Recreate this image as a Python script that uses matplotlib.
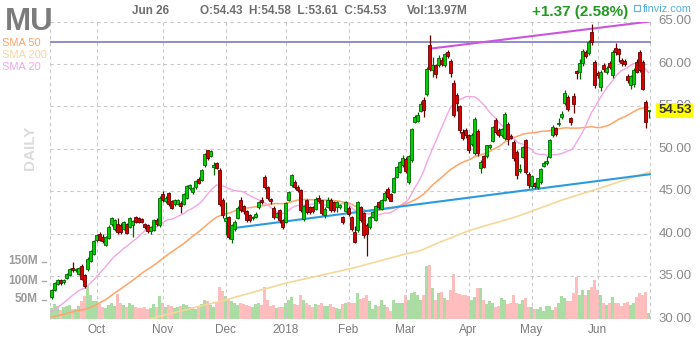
import numpy as np
import pandas as pd
import matplotlib
matplotlib.use("Agg")
import matplotlib.pyplot as plt
from matplotlib.transforms import blended_transform_factory
from matplotlib.patches import Rectangle

plt.rcParams['font.family'] = ['Liberation Sans', 'DejaVu Sans']

# ---------------- data ----------------
ticker = "MU"
start_date = "2017-09-11"
end_date = "2018-06-26"
holidays = ["2017-11-23", "2017-12-25", "2018-01-01", "2018-01-15",
            "2018-02-19", "2018-03-30", "2018-05-28"]

opens = [
    32.51, 33.38, 34.08, 34.48, 34.28, 34.79, 35.18, 35.93, 35.75, 35.26, 36.21, 35.10, 35.85, 36.76, 37.62,
    39.27, 39.98, 39.66, 38.72, 39.51, 41.16, 40.57, 41.08, 40.96, 40.57, 41.16, 40.84, 40.96, 41.94, 41.83,
    41.71, 41.16, 40.96, 40.37, 40.45, 41.60, 40.96,
    44.69, 43.83, 44.77, 43.83, 43.44, 43.52, 43.59, 43.52, 44.22, 45.40, 44.89, 45.48, 46.46, 46.35, 48.04,
    49.80, 49.10, 47.84, 48.35, 47.52, 43.99,
    41.47, 41.94, 39.39, 40.57, 41.87, 43.91, 43.20, 42.65, 42.14, 41.90, 41.94, 43.12, 43.99, 46.66, 45.48,
    44.10, 43.04, 41.94, 42.73, 41.63,
    41.35, 43.99, 45.68, 46.07, 45.48, 45.17, 41.75, 43.99, 43.12, 43.12, 42.93, 44.22, 43.91, 42.14, 43.12,
    43.99, 43.71, 43.12, 43.12, 41.94, 42.70,
    42.97, 41.91, 40.20, 40.40, 43.10, 42.40, 41.00, 40.80, 42.00, 41.60, 43.70, 42.90, 44.00, 45.30, 44.70,
    44.90, 46.70, 47.30, 48.10,
    48.80, 46.10, 48.70, 53.20, 53.30, 54.50, 55.80, 56.40, 62.20, 59.30, 59.90, 59.90, 60.50, 59.90, 61.40,
    60.30, 57.80, 56.30, 55.00, 52.00, 52.20,
    51.60, 50.60, 49.50, 52.10, 47.70, 49.10, 49.10, 50.20, 50.95, 53.39, 52.21, 51.62, 51.23, 52.92, 51.50,
    50.83, 49.65, 47.41, 49.06, 51.00, 47.02,
    45.61, 45.92, 45.53, 46.12, 48.00, 48.28, 49.06, 51.62, 52.40, 52.88, 53.70, 55.43, 56.14, 53.58, 56.22,
    59.16, 59.01, 60.07, 61.44, 61.25, 63.80, 60.26,
    58.89, 57.32, 59.87, 59.08, 60.07, 58.69, 61.84, 61.72, 60.46, 60.40, 58.57, 57.51, 57.63, 60.26, 61.44,
    60.26, 55.55, 54.43,
]
closes = [
    33.30, 34.16, 34.48, 34.16, 34.48, 35.26, 35.85, 35.73, 35.85, 35.97, 34.63, 33.81, 37.03, 37.90, 39.19,
    39.86, 39.27, 39.19, 39.59, 40.84, 41.86, 41.55, 40.17, 40.17, 41.35, 40.06, 41.86, 41.47, 41.35, 41.35,
    41.43, 40.76, 40.29, 40.76, 41.55, 41.10, 44.22,
    43.91, 44.22, 43.52, 43.04, 43.99, 43.91, 43.24, 44.69, 45.56, 45.68, 45.36, 46.19, 45.99, 47.52, 49.33,
    48.94, 49.72, 48.04, 47.76, 43.52, 42.14,
    41.87, 39.59, 40.96, 41.43, 43.00, 42.73, 42.65, 41.63, 41.63, 41.94, 42.34, 43.71, 43.71, 45.48, 44.22,
    43.83, 41.94, 42.41, 41.55, 40.76,
    43.59, 44.89, 46.86, 45.48, 45.09, 42.73, 43.20, 42.53, 42.53, 42.65, 44.10, 43.83, 42.41, 42.93, 43.91,
    42.73, 42.73, 43.71, 43.32, 41.35, 43.76,
    42.30, 40.50, 39.00, 43.70, 41.60, 39.80, 40.00, 42.00, 42.50, 43.30, 43.10, 44.00, 44.80, 44.30, 43.90,
    46.60, 47.90, 48.50, 48.90,
    47.40, 49.10, 52.30, 53.70, 54.00, 55.30, 54.60, 59.40, 59.40, 59.90, 58.80, 60.70, 60.00, 61.20, 60.90,
    58.90, 54.00, 55.40, 52.20, 51.30, 51.60,
    49.80, 51.60, 53.50, 49.50, 48.50, 47.90, 50.40, 50.40, 52.52, 52.01, 51.62, 52.29, 54.06, 51.11, 51.30,
    48.87, 46.90, 47.57, 50.17, 47.29, 45.72,
    46.78, 45.60, 46.51, 47.57, 48.36, 48.59, 51.03, 52.60, 51.74, 52.99, 54.06, 56.53, 54.64, 53.19, 55.27,
    58.89, 60.07, 61.56, 60.93, 62.62, 62.62, 57.51,
    58.69, 59.08, 59.36, 59.56, 59.60, 61.44, 61.44, 61.17, 60.15, 60.05, 58.10, 58.57, 59.28, 59.08, 59.28,
    57.00, 53.16, 54.53,
]
highs = [
    33.5, 34.3, 34.7, 34.6, 34.7, 35.4, 36.0, 36.6, 36.0, 36.1, 36.4, 35.2, 37.2, 38.1, 39.3,
    40.0, 40.2, 39.9, 39.7, 41.0, 42.0, 41.7, 41.9, 41.2, 41.5, 41.3, 42.0, 41.6, 42.1, 42.0,
    41.9, 41.3, 41.1, 40.9, 41.7, 41.8, 44.4,
    45.0, 44.4, 44.9, 44.0, 44.1, 44.1, 43.8, 44.8, 45.7, 45.9, 45.5, 46.3, 46.7, 47.6, 49.5,
    49.9, 49.9, 48.4, 48.5, 47.7, 44.2,
    43.7, 42.1, 41.1, 41.6, 43.2, 44.3, 43.4, 42.8, 42.3, 42.1, 42.5, 43.9, 44.3, 46.9, 45.6,
    44.2, 43.2, 42.6, 42.9, 41.7,
    43.7, 45.0, 47.0, 46.3, 45.7, 45.3, 43.4, 44.1, 43.3, 43.3, 44.3, 44.5, 44.0, 43.1, 44.3,
    44.2, 43.9, 43.9, 43.5, 42.1, 43.9,
    43.2, 42.1, 40.9, 43.9, 43.3, 42.5, 41.2, 42.1, 42.7, 43.4, 43.9, 44.1, 45.0, 45.5, 44.8,
    46.7, 48.0, 48.6, 49.3,
    49.0, 49.3, 52.5, 54.0, 54.3, 55.6, 56.1, 59.6, 63.4, 60.8, 60.0, 61.0, 60.8, 61.3, 61.6,
    60.6, 58.1, 56.6, 55.2, 52.3, 52.5,
    51.8, 51.9, 53.8, 52.3, 48.7, 49.3, 50.5, 50.6, 52.7, 53.6, 52.4, 52.5, 54.3, 53.1, 51.8,
    51.0, 49.8, 48.2, 50.3, 51.1, 47.3,
    46.9, 46.1, 46.6, 47.7, 48.6, 49.1, 51.2, 52.8, 52.6, 53.6, 54.4, 56.9, 56.3, 53.7, 56.6,
    59.3, 60.6, 61.8, 61.7, 62.8, 64.66, 60.5,
    59.2, 59.3, 60.1, 59.8, 60.3, 61.6, 62.5, 61.9, 60.7, 60.6, 58.8, 58.7, 59.5, 60.6, 61.6,
    60.5, 55.75, 54.58,
]
lows = [
    32.3, 33.2, 33.9, 33.9, 34.1, 34.6, 35.0, 35.5, 35.5, 35.1, 34.5, 33.6, 35.6, 36.6, 37.5,
    39.0, 39.1, 38.9, 38.5, 39.4, 40.9, 40.3, 40.0, 40.0, 40.4, 39.9, 40.7, 39.6, 41.2, 41.2,
    41.3, 40.6, 40.1, 40.0, 40.3, 40.9, 40.8,
    43.7, 43.6, 43.3, 42.9, 43.3, 43.4, 42.4, 43.4, 44.1, 45.2, 44.7, 45.3, 45.8, 46.2, 47.9,
    48.7, 49.0, 46.9, 47.6, 43.3, 41.9,
    39.8, 39.4, 38.9, 40.3, 41.7, 42.6, 42.3, 41.4, 41.4, 41.6, 41.8, 42.9, 43.5, 45.3, 44.0,
    43.5, 41.7, 41.8, 41.2, 40.6,
    41.2, 43.8, 45.5, 45.3, 44.9, 42.5, 41.5, 42.3, 42.3, 42.4, 42.8, 43.6, 42.2, 41.9, 43.0,
    42.5, 42.5, 42.6, 42.9, 41.1, 42.5,
    42.1, 40.3, 38.9, 40.2, 41.4, 39.5, 37.4, 40.6, 41.8, 41.5, 42.9, 42.8, 43.9, 44.1, 43.8,
    44.8, 46.6, 47.1, 47.9,
    47.2, 45.9, 48.5, 53.0, 53.1, 54.3, 53.8, 56.2, 59.2, 58.5, 58.3, 59.6, 59.8, 59.6, 60.7,
    58.5, 53.8, 54.5, 51.9, 51.0, 51.3,
    49.5, 50.3, 49.3, 49.2, 47.1, 47.7, 48.9, 50.0, 50.8, 51.8, 51.4, 51.4, 51.0, 50.4, 51.1,
    48.6, 46.4, 47.2, 48.9, 47.0, 45.4,
    45.4, 45.4, 45.3, 45.9, 47.8, 48.1, 48.9, 51.4, 51.5, 52.7, 53.5, 55.2, 54.4, 52.8, 54.2,
    58.2, 58.2, 59.7, 60.7, 61.0, 62.2, 57.2,
    58.3, 56.8, 59.1, 58.8, 59.4, 58.4, 61.1, 60.2, 59.7, 59.8, 57.8, 57.1, 57.3, 58.9, 59.1,
    56.9, 52.40, 53.61,
]
volumes_m = [
    28, 38, 34, 22, 30, 33, 36, 26, 24, 32, 45, 59, 85, 62, 47,
    45, 38, 30, 28, 35, 40, 33, 65, 40, 35, 30, 42, 36, 30, 28, 27, 30, 26, 28, 38, 30, 60,
    42, 30, 35, 32, 28, 30, 33, 38, 36, 30, 28, 26, 34, 38, 50, 45, 35, 30, 42, 82, 72,
    60, 52, 45, 40, 36, 40, 38, 35, 34, 30, 38, 40, 35, 83, 48, 32, 36, 28, 30, 30,
    42, 50, 56, 38, 35, 61, 48, 42, 35, 30, 38, 35, 40, 33, 32, 38, 30, 28, 25, 38, 42,
    44, 40, 42, 66, 52, 54, 63, 46, 26, 35, 32, 48, 35, 30, 21, 48, 40, 42, 42,
    61, 50, 67, 70, 61, 50, 63, 139, 141, 79, 50, 67, 70, 53, 50, 74, 118, 67, 64, 62, 61,
    60, 50, 57, 81, 79, 48, 38, 45, 42, 30, 32, 53, 49, 38, 42, 61, 42, 38, 48, 53, 31,
    30, 26, 26, 31, 21, 34, 34, 23, 31, 42, 58, 53, 46, 45, 68, 110, 63, 74, 62, 74, 84, 102,
    74, 63, 40, 36, 40, 56, 40, 42, 34, 42, 44, 35, 42, 56, 67, 61, 70, 14,
]
# closes before the visible window (Jun 30 - Sep 8, 2017) for the moving averages
prior_closes = [
    29.86, 29.5, 30.3, 29.8, 30.5, 30.9, 31.2, 31.6, 31.5, 31.8, 31.6, 31.9, 31.0, 30.8, 30.5,
    30.3, 30.1, 29.9, 28.7, 28.3, 28.1, 28.5, 28.6, 28.1, 28.4, 28.8, 28.6, 28.2, 27.3, 27.6,
    28.4, 28.9, 29.4, 29.1, 29.3, 29.6, 30.3, 30.6, 30.5, 30.9, 31.4, 31.3, 31.6, 32.0, 31.9,
    31.0, 31.6, 32.3, 31.8,
]
# SMA 200 (bar index, value)
sma200_idx = [33, 49.5, 56, 78.5, 100, 118, 123, 129.5, 139.5, 155, 170.5, 184, 199.5]
sma200_val = [30.0, 31.45, 32.0, 34.2, 35.9, 37.6, 38.0, 39.0, 40.4, 42.0, 44.0, 45.5, 47.3]
# drawn lines
hline_level = 62.6
blue_trend_idx = [59.5, 199.5]
blue_trend_val = [40.6, 47.0]
magenta_trend_idx = [126.2, 199.5]
magenta_trend_val = [61.8, 65.0]
price_ticks = [30, 35, 40, 45, 50, 55, 60, 65]
vol_ticks = [50, 100, 150]
header_date = "Jun 26"
header_ohlc = "O:54.43  H:54.58  L:53.61  C:54.53"
header_vol = "Vol:13.97M"
header_change = "+1.37 (2.58%)"
last_price = 54.53

# ---------------- prep ----------------
o = np.array(opens); c = np.array(closes); h = np.array(highs); l = np.array(lows)
v = np.array(volumes_m, dtype=float)
n = len(c)
assert len(o) == n and len(h) == n and len(l) == n and len(v) == n
x = np.arange(n)
dates = [d for d in pd.bdate_range(start_date, end_date) if d.strftime('%Y-%m-%d') not in holidays]
dates = dates[:n]
month_idx = [i for i in range(1, n) if dates[i].month != dates[i - 1].month]
month_lbl = ['2018' if dates[i].month == 1 else dates[i].strftime('%b') for i in month_idx]

allc = pd.Series(list(prior_closes) + list(closes))
k = len(prior_closes)
sma20 = allc.rolling(20).mean().values[k:]
sma50 = allc.rolling(50).mean().values[k:]

# ---------------- figure ----------------
W, H = 700, 340
fig = plt.figure(figsize=(W / 100, H / 100), dpi=100)
fig.patch.set_facecolor('white')
L, R, T, B = 50, 651, 21.5, 318.5
rect = [L / W, 1 - B / H, (R - L) / W, (B - T) / H]
axv = fig.add_axes(rect)
ax = fig.add_axes(rect)
ax.patch.set_alpha(0)
xmin, xmax = -0.5, -0.5 + (R - L) / 3.0
for a in (ax, axv):
    a.set_xlim(xmin, xmax)
    a.axis('off')
ax.set_ylim(30, 65)
axv.set_ylim(0, (B - T) / 0.38)

def fx(px):
    return px / W

def fy(py):
    return 1 - py / H

# volume
vcol = np.where(c >= o, '#aadca4', '#ffbdbd')
axv.bar(x, v, width=0.88, color=vcol, linewidth=0)

# grid
gcol = '#c9c9c9'
dash = (0, (3, 3))
for p in price_ticks[1:]:
    ax.axhline(p, color=gcol, lw=0.8, ls=dash, zorder=1)
for i in month_idx:
    ax.axvline(i, color=gcol, lw=0.8, ls=dash, zorder=1)
ax.axvline(xmin + 0.05, color=gcol, lw=0.8, ls=dash, zorder=1, clip_on=False)
ax.axvline(199.5, color=gcol, lw=0.8, ls=dash, zorder=1, clip_on=False)

# moving averages
ax.plot(sma200_idx, sma200_val, color='#f5d898', lw=1.2, zorder=2)
ax.plot(x, sma50, color='#ffa466', lw=1.1, zorder=2)
ax.plot(x, sma20, color='#f4a6e4', lw=1.0, zorder=2)

# drawn lines
ax.axhline(hline_level, color='#8585c8', lw=1.3, zorder=3)
ax.plot(blue_trend_idx, blue_trend_val, color='#2b9be0', lw=1.5, zorder=3)
ax.plot(magenta_trend_idx, magenta_trend_val, color='#cc55dd', lw=1.5, zorder=3)

# candles
up = c >= o
body_col = np.where(up, '#00d000', '#d80000')
edge_col = np.where(up, '#006400', '#600000')
ax.vlines(x, l, h, colors=edge_col, lw=0.9, zorder=4)
bottom = np.minimum(o, c)
height = np.maximum(np.abs(c - o), 0.06)
ax.bar(x, height, bottom=bottom, width=0.72, color=body_col, edgecolor=edge_col,
       linewidth=0.6, zorder=5)

# right price labels
ytr = ax.get_yaxis_transform()
for p in price_ticks:
    ax.text(1.012, p, f'{p:.2f}', transform=ytr, fontsize=9.5, color='#8a8a8a',
            va='center', ha='left', clip_on=False)
ax.text(1.012, last_price, f'{last_price:.2f}', transform=ytr, fontsize=9.5,
        fontweight='bold', color='#333333', va='center', ha='left', zorder=10,
        bbox=dict(facecolor='#ffff00', edgecolor='none', pad=1.2), clip_on=False)

# volume labels on the left
vtr = blended_transform_factory(fig.transFigure, axv.transData)
for vt in vol_ticks:
    axv.text(fx(38), vt, f'{vt}M', transform=vtr, fontsize=8.5, fontweight='bold',
             color='#9a9a9a', ha='right', va='center')
    axv.plot([fx(42), fx(45.5)], [vt, vt], transform=vtr, color='#aaaaaa', lw=1,
             clip_on=False)

# month labels
mtr = blended_transform_factory(ax.transData, fig.transFigure)
for i, lb in zip(month_idx, month_lbl):
    ax.text(i, fy(330), lb, transform=mtr, fontsize=8.5, color='#7a7a7a',
            ha='center', va='center', clip_on=False)

# header
fig.text(fx(5), fy(30), ticker, fontsize=22.5, fontweight='bold', color='#7b7b7b',
         ha='left', va='baseline')
fig.text(fx(132), fy(14), header_date, fontsize=8.5, fontweight='bold', color='#6e6e6e',
         ha='left', va='baseline')
fig.text(fx(200), fy(14), header_ohlc, fontsize=8.5, fontweight='bold', color='#6e6e6e',
         ha='left', va='baseline')
fig.text(fx(407), fy(14), header_vol, fontsize=8.5, fontweight='bold', color='#6e6e6e',
         ha='left', va='baseline')
fig.text(fx(532), fy(16), header_change, fontsize=11, fontweight='bold', color='#229a22',
         ha='left', va='baseline')
fig.patches.append(Rectangle((fx(634), fy(11)), fx(6), 6 / H, transform=fig.transFigure,
                             fill=False, edgecolor='#6ab2e2', lw=0.9))
fig.text(fx(643), fy(12), 'finviz.com', fontsize=7.8, color='#5aaee0',
         ha='left', va='baseline')

# SMA legend
fig.text(fx(2), fy(46), 'SMA 50', fontsize=8, color='#ffa466', ha='left', va='baseline')
fig.text(fx(2), fy(58), 'SMA 200', fontsize=8, color='#f3d7a2', ha='left', va='baseline')
fig.text(fx(2), fy(70), 'SMA 20', fontsize=8, color='#f4a6e4', ha='left', va='baseline')

# DAILY
fig.text(fx(30), fy(148), 'DAILY', rotation=90, fontsize=11, fontweight='bold',
         color='#dcdcdc', ha='center', va='center')

fig.savefig('out.png', dpi=100)
